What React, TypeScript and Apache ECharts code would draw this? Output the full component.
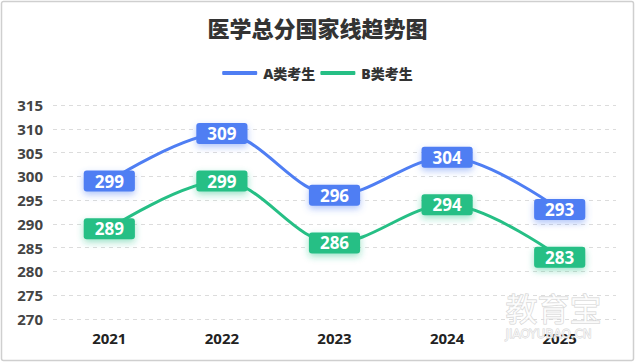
import React, { useEffect, useRef } from "react";
import * as echarts from "echarts";

const years = ["2021", "2022", "2023", "2024", "2025"];
const seriesAName = "A类考生";
const seriesBName = "B类考生";
const seriesA = [299, 309, 296, 304, 293];
const seriesB = [289, 299, 286, 294, 283];
const yMin = 270;
const yMax = 315;
const yStep = 5;

const BLUE = "#4F7EF3";
const GREEN = "#26BF85";
const FONT = "'Open Sans', 'Noto Sans CJK SC', sans-serif";
const CJK = "'Noto Sans CJK SC', sans-serif";

function labelStyle(color: string, shadow: string) {
  return {
    show: true,
    position: "inside",
    backgroundColor: color,
    borderRadius: 3,
    padding: [2, 11],
    color: "#fff",
    fontWeight: "bold",
    fontSize: 17,
    lineHeight: 17,
    fontFamily: FONT,
    shadowBlur: 7,
    shadowOffsetY: 3,
    shadowColor: shadow,
  };
}

export default function App() {
  const ref = useRef<HTMLDivElement>(null);
  useEffect(() => {
    if (!ref.current) return;
    const chart = echarts.init(ref.current, null, { renderer: "svg" });
    chart.setOption({
      animation: false,
      backgroundColor: "#fff",
      title: {
        text: "医学总分国家线趋势图",
        left: "center",
        top: 11,
        textStyle: { fontSize: 22, fontWeight: 900, color: "#333", fontFamily: CJK },
      },
      legend: {
        top: 61,
        left: "center",
        icon: "roundRect",
        itemWidth: 35,
        itemHeight: 4,
        itemGap: 5,
        textStyle: { fontSize: 14, fontWeight: 900, color: "#333", fontFamily: FONT, padding: [0, 0, 0, 1] },
        data: [seriesAName, seriesBName],
      },
      grid: { left: 53, right: 19, top: 105, bottom: 43 },
      xAxis: {
        type: "category",
        data: years,
        boundaryGap: true,
        axisLine: { show: false },
        axisTick: { show: false },
        axisLabel: { fontSize: 15, fontWeight: "bold", color: "#222", margin: 11, fontFamily: FONT },
      },
      yAxis: {
        type: "value",
        min: yMin,
        max: yMax,
        interval: yStep,
        axisLine: { show: false },
        axisTick: { show: false },
        axisLabel: { fontSize: 15, fontWeight: "bold", color: "#444", margin: 10, fontFamily: FONT },
        splitLine: { lineStyle: { color: "#dcdcdc", type: [4, 4], width: 1 } },
      },
      series: [
        {
          name: seriesAName,
          type: "line",
          data: seriesA,
          smooth: 0.35,
          symbol: "circle",
          symbolSize: 4,
          itemStyle: { color: BLUE },
          lineStyle: { color: BLUE, width: 3 },
          label: labelStyle(BLUE, "rgba(79,126,243,0.45)"),
          z: 3,
        },
        {
          name: seriesBName,
          type: "line",
          data: seriesB,
          smooth: 0.35,
          symbol: "circle",
          symbolSize: 4,
          itemStyle: { color: GREEN },
          lineStyle: { color: GREEN, width: 3 },
          label: labelStyle(GREEN, "rgba(38,191,133,0.45)"),
          z: 2,
        },
      ],
      graphic: [
        {
          type: "rect",
          shape: { x: 1.5, y: 1.5, width: 632, height: 359, r: 2 },
          style: { fill: "none", stroke: "#cfcfcf", lineWidth: 1.5 },
          silent: true,
          z: 100,
        },
        {
          type: "text",
          left: 505,
          top: 290,
          style: {
            text: "教育宝",
            fontSize: 32,
            fontFamily: CJK,
            fill: "rgba(255,255,255,0.7)",
            stroke: "#d2d2d2",
            lineWidth: 1,
          },
          silent: true,
          z: 100,
        },
        {
          type: "text",
          left: 505,
          top: 328,
          style: {
            text: "JIAOYUBAO.CN",
            fontSize: 12,
            fontFamily: "'DejaVu Sans', sans-serif",
            fill: "rgba(255,255,255,0.7)",
            stroke: "#d2d2d2",
            lineWidth: 0.8,
          },
          silent: true,
          z: 100,
        },
      ],
    });
    return () => chart.dispose();
  }, []);
  return (
    <div
      ref={ref}
      style={{ position: "fixed", left: 0, top: 0, width: 635, height: 362, background: "#fff" }}
    />
  );
}
